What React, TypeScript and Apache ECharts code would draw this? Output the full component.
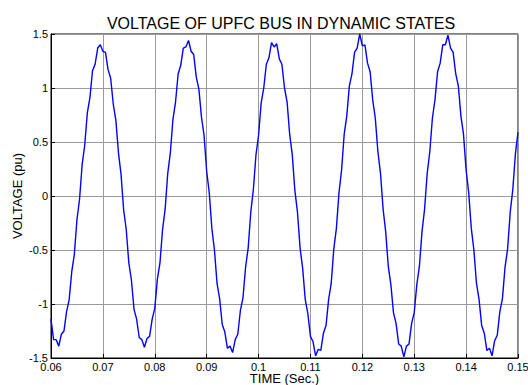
import React, { useEffect, useRef } from "react";
import * as echarts from "echarts";

const TITLE = "VOLTAGE OF UPFC BUS IN DYNAMIC STATES";
const X_NAME = "TIME (Sec.)";
const Y_NAME = "VOLTAGE (pu)";
const X_MIN = 0.06;
const X_MAX = 0.15;
const X_STEP = 0.01;
const Y_MIN = -1.5;
const Y_MAX = 1.5;
const Y_STEP = 0.5;
const SAMPLE_START = 0.06;
const SAMPLE_DT = 0.0005;

// Bus voltage (pu), one value every 0.5 ms from 0.06 s
const voltage = [
  -1.14, -1.33, -1.33, -1.39, -1.28, -1.25, -1.07, -0.96, -0.7, -0.54, -0.22,
  -0.03, 0.29, 0.47, 0.77, 0.91, 1.16, 1.22, 1.37, 1.4, 1.34, 1.33, 1.17, 1.09, 0.85, 0.7, 0.4, 0.2,
  -0.13, -0.31, -0.62, -0.78, -1.05, -1.14, -1.31, -1.33, -1.4, -1.32, -1.3, -1.14, -1.04, -0.77, -0.62, -0.31, -0.12,
  0.21, 0.4, 0.71, 0.87, 1.13, 1.21, 1.37, 1.38, 1.44, 1.34, 1.31, 1.1, 0.99, 0.73, 0.56, 0.23,
  0.03, -0.3, -0.5, -0.81, -0.95, -1.19, -1.26, -1.41, -1.39, -1.45, -1.33, -1.28, -1.06, -0.94, -0.66, -0.48, -0.15,
  0.06, 0.38, 0.56, 0.86, 1.0, 1.22, 1.28, 1.42, 1.38, 1.41, 1.27, 1.22, 1.0, 0.87, 0.57, 0.38, 0.05,
  -0.15, -0.48, -0.67, -0.96, -1.09, -1.3, -1.35, -1.48, -1.42, -1.43, -1.27, -1.2, -0.96, -0.81, -0.49, -0.3,
  0.03, 0.24, 0.57, 0.74, 1.02, 1.13, 1.33, 1.37, 1.5, 1.39, 1.4, 1.23, 1.15, 0.89, 0.72, 0.41, 0.21,
  -0.12, -0.33, -0.65, -0.82, -1.08, -1.18, -1.37, -1.39, -1.49, -1.39, -1.37, -1.18, -1.08, -0.82, -0.65, -0.33, -0.12,
  0.21, 0.41, 0.72, 0.89, 1.15, 1.23, 1.4, 1.4, 1.49, 1.37, 1.33, 1.13, 1.02, 0.74, 0.57, 0.24,
  0.03, -0.3, -0.5, -0.81, -0.96, -1.2, -1.27, -1.43, -1.41, -1.48, -1.34, -1.29, -1.07, -0.95, -0.66, -0.49, -0.15,
  0.06, 0.39, 0.59,
];

const FONT = "Liberation Sans, Arial, sans-serif";

export default function App() {
  const ref = useRef<HTMLDivElement>(null);

  useEffect(() => {
    if (!ref.current) return;
    const chart = echarts.init(ref.current, undefined, { renderer: "svg" });
    const points = voltage.map((v, i) => [
      Number((SAMPLE_START + i * SAMPLE_DT).toFixed(4)),
      v,
    ]);
    chart.setOption({
      animation: false,
      backgroundColor: "#ffffff",
      textStyle: { fontFamily: FONT },
      title: {
        text: TITLE,
        left: 276,
        textAlign: "center",
        top: 10,
        textStyle: {
          fontFamily: FONT,
          fontSize: 16,
          fontWeight: "normal",
          color: "#000",
        },
      },
      grid: {
        left: 51,
        right: 10,
        top: 34,
        bottom: 27,
        containLabel: false,
        outerBoundsMode: "none",
        show: true,
        borderColor: "#000",
        borderWidth: 1,
        backgroundColor: "transparent",
      },
      xAxis: {
        type: "value",
        min: X_MIN,
        max: X_MAX,
        interval: X_STEP,
        name: X_NAME,
        nameLocation: "middle",
        nameGap: 14,
        nameMoveOverlap: false,
        nameTextStyle: { fontFamily: FONT, fontSize: 13, lineHeight: 13, color: "#000" },
        axisLine: { show: true, onZero: false, lineStyle: { color: "#000", width: 1 } },
        axisTick: { show: true, inside: true, length: 4, lineStyle: { color: "#000" } },
        axisLabel: {
          fontFamily: FONT,
          fontSize: 11,
          lineHeight: 11,
          color: "#000",
          margin: 3,
          hideOverlap: false,
          formatter: (v: number) => String(Number(v.toFixed(2))),
        },
        splitLine: { show: true, lineStyle: { color: "#9a9a9a", width: 1 } },
      },
      yAxis: {
        type: "value",
        min: Y_MIN,
        max: Y_MAX,
        interval: Y_STEP,
        name: Y_NAME,
        nameLocation: "middle",
        nameGap: 27,
        nameMoveOverlap: false,
        nameTextStyle: { fontFamily: FONT, fontSize: 13, color: "#000" },
        axisLine: { show: true, onZero: false, lineStyle: { color: "#000", width: 1 } },
        axisTick: { show: true, inside: true, length: 4, lineStyle: { color: "#000" } },
        axisLabel: {
          fontFamily: FONT,
          fontSize: 11,
          lineHeight: 10,
          color: "#000",
          margin: 3,
          formatter: (v: number) => String(Number(v.toFixed(2))),
        },
        splitLine: { show: true, lineStyle: { color: "#9a9a9a", width: 1 } },
      },
      series: [
        {
          type: "line",
          data: points,
          showSymbol: false,
          symbol: "none",
          lineStyle: { color: "#0000ff", width: 1.4 },
          clip: true,
        },
      ],
    });
    return () => chart.dispose();
  }, []);

  return (
    <div
      ref={ref}
      style={{ position: "fixed", left: 0, top: 0, width: 528, height: 385 }}
    />
  );
}
